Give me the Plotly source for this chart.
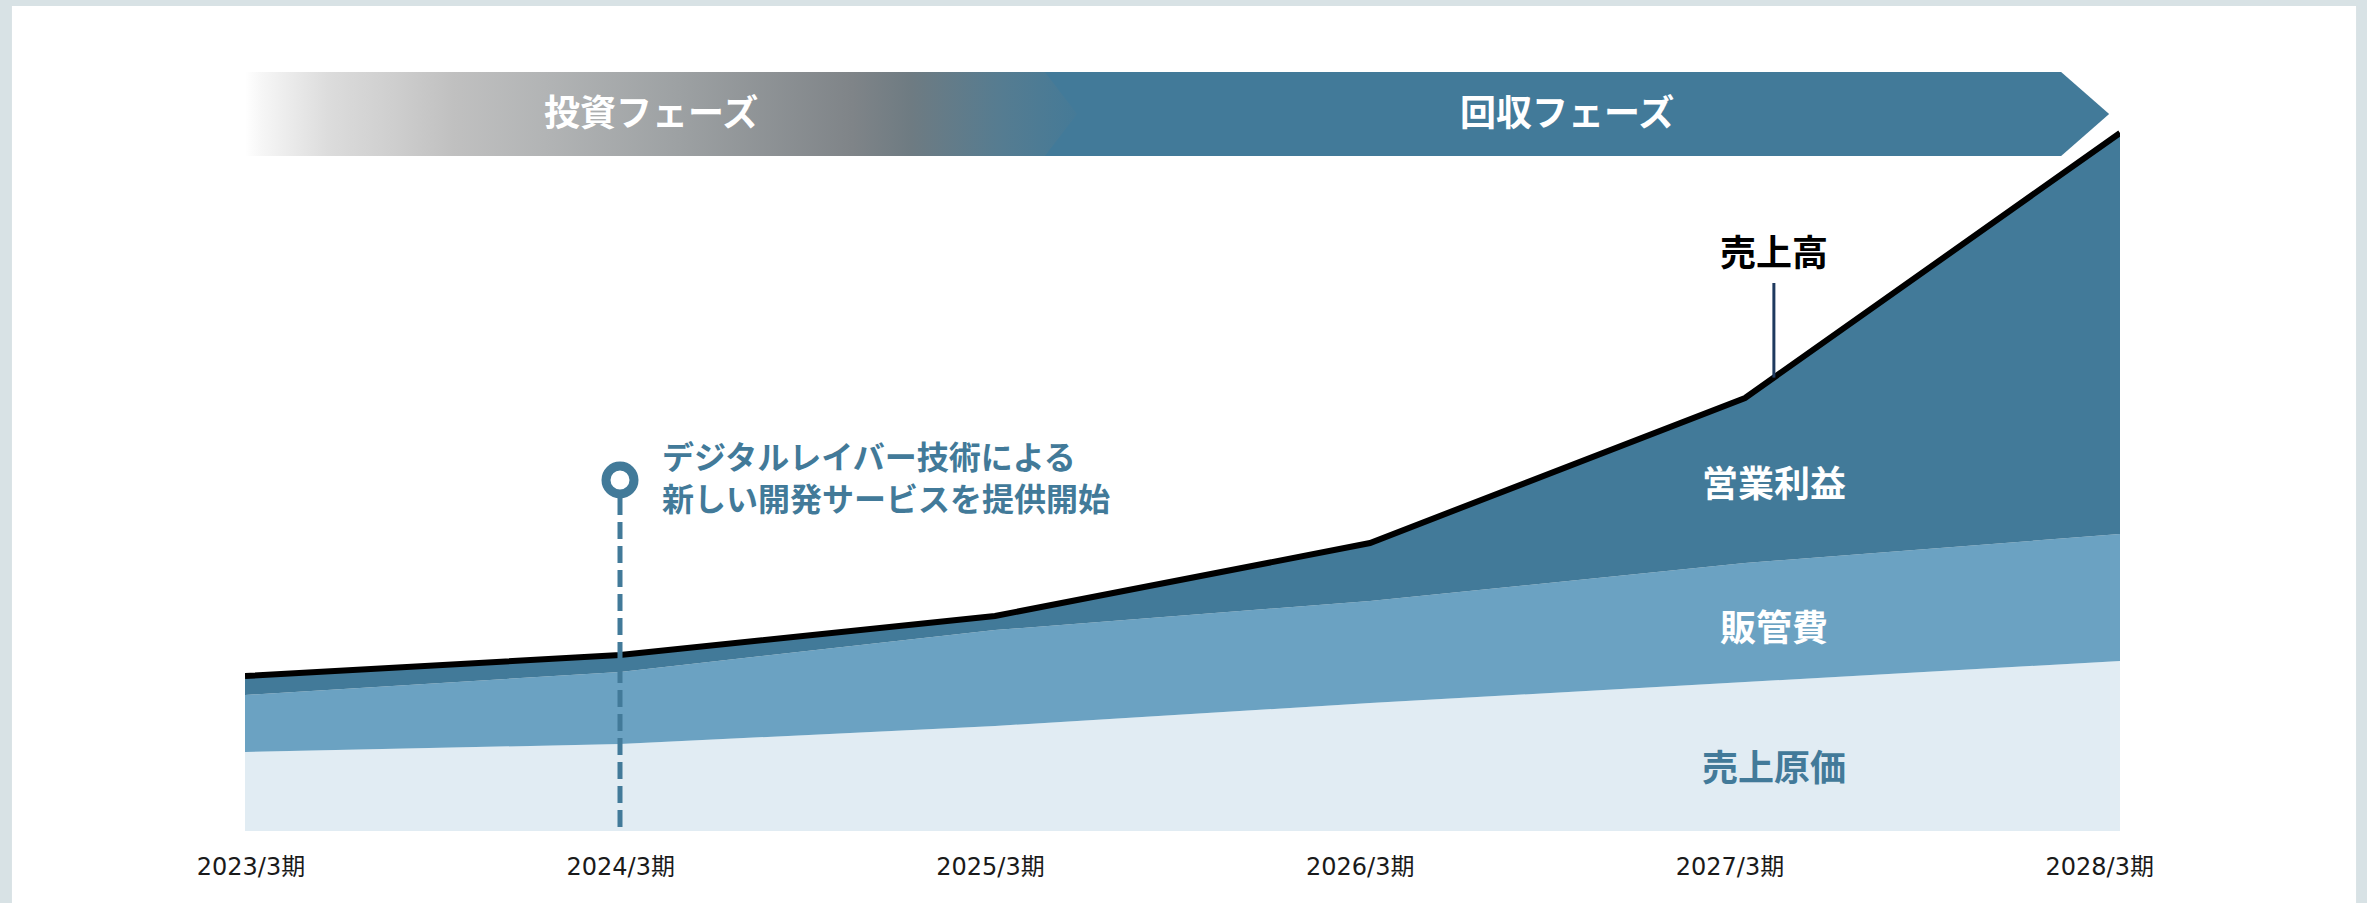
import numpy as np
import plotly.graph_objects as go

# ---- data (arbitrary units) ----
years = ["2023/3期", "2024/3期", "2025/3期", "2026/3期", "2027/3期", "2028/3期"]
cogs = [79, 87, 105, 128, 149, 170]        # 売上原価
sga = [57, 72, 96, 102, 119, 127]          # 販管費
op_profit = [19, 17, 14, 58, 165, 401]     # 営業利益
event_year_index = 1                       # 2024/3期: サービス提供開始

xs = list(range(len(years)))
revenue = list(np.add(np.add(cogs, sga), op_profit))  # 売上高

C_DARK = "#427a99"
C_MID = "#6ba2c2"
C_LIGHT = "#e1ecf3"
FONT = "Noto Sans CJK JP"

fig = go.Figure()

# stacked areas
fig.add_trace(go.Scatter(x=xs, y=cogs, stackgroup="s", mode="lines",
                         line=dict(width=0), fillcolor=C_LIGHT, hoverinfo="skip", name="売上原価"))
fig.add_trace(go.Scatter(x=xs, y=sga, stackgroup="s", mode="lines",
                         line=dict(width=0), fillcolor=C_MID, hoverinfo="skip", name="販管費"))
fig.add_trace(go.Scatter(x=xs, y=op_profit, stackgroup="s", mode="lines",
                         line=dict(width=0), fillcolor=C_DARK, hoverinfo="skip", name="営業利益"))
# revenue line
fig.add_trace(go.Scatter(x=xs, y=revenue, mode="lines",
                         line=dict(color="#000000", width=6), hoverinfo="skip", name="売上高"))

# ---- phase banner (decoration) ----
b_top, b_mid, b_bot = 759, 717, 675
fig.add_trace(go.Scatter(x=[1.765, 4.843, 4.971, 4.843, 1.765, 1.765],
                         y=[b_top, b_top, b_mid, b_bot, b_bot, b_top],
                         fill="toself", fillcolor=C_DARK, mode="lines",
                         line=dict(width=0), hoverinfo="skip"))
fig.add_trace(go.Scatter(x=[0, 2.133, 2.219, 2.133, 0, 0],
                         y=[b_top, b_top, b_mid, b_bot, b_bot, b_top],
                         fill="toself", mode="lines", line=dict(width=0), hoverinfo="skip",
                         fillgradient=dict(type="horizontal", colorscale=[
                             [0.0, "#ffffff"], [0.02, "#f6f6f6"], [0.10, "#dcdcdc"],
                             [0.18, "#cecece"], [0.25, "#c0c0c0"], [0.36, "#b2b4b5"],
                             [0.52, "#9da1a3"], [0.73, "#7f8488"], [0.80, "#6e7b82"],
                             [0.91, "#557c91"], [1.0, "#457a97"]])))

# ---- event marker ----
fig.add_trace(go.Scatter(x=[event_year_index, event_year_index], y=[333, 0], mode="lines",
                         line=dict(color=C_DARK, width=5, dash="17px,7px"), hoverinfo="skip"))
fig.add_trace(go.Scatter(x=[event_year_index], y=[351], mode="markers",
                         marker=dict(size=28, color="#ffffff", line=dict(color=C_DARK, width=9)),
                         hoverinfo="skip"))

# leader line for 売上高
lead_x = 4.077
lead_end = float(np.interp(lead_x, xs, revenue))
fig.add_shape(type="line", x0=lead_x, x1=lead_x, y0=548, y1=lead_end,
              line=dict(color="#1f3a5f", width=3), layer="above")

# background card
fig.add_shape(type="rect", xref="paper", yref="paper",
              x0=-0.1243, x1=1.1259, y0=-0.1, y1=0.9927,
              fillcolor="#ffffff", line=dict(width=0), layer="below")

def ann(text, x, y, color, size, xanchor="center", align="center"):
    fig.add_annotation(x=x, y=y, text=text, showarrow=False, xanchor=xanchor, yanchor="middle",
                       align=align, font=dict(family=FONT, size=size, color=color))

ann("<b>投資フェーズ</b>", 1.083, 721, "#ffffff", 36)
ann("<b>回収フェーズ</b>", 3.525, 721, "#ffffff", 36)
ann("<b>売上高</b>", lead_x, 581, "#000000", 36)
ann("<b>営業利益</b>", lead_x, 350, "#ffffff", 36)
ann("<b>販管費</b>", lead_x, 206, "#ffffff", 36)
ann("<b>売上原価</b>", lead_x, 66, C_DARK, 36)
ann("<b>デジタルレイバー技術による<br>新しい開発サービスを提供開始</b>", 1.107, 355.5, C_DARK, 32,
    xanchor="left", align="left")

label_pos = [0.016 + i * 0.986 for i in range(len(years))]

fig.update_layout(
    width=2367, height=903,
    margin=dict(l=245, r=247, t=0, b=72, pad=0),
    paper_bgcolor="#d8e2e5",
    plot_bgcolor="rgba(0,0,0,0)",
    showlegend=False,
    xaxis=dict(range=[0, 5], showgrid=False, zeroline=False, showline=False,
               tickvals=label_pos, ticktext=years, ticks="outside", ticklen=14,
               tickcolor="rgba(0,0,0,0)",
               tickfont=dict(family="DejaVu Sans, Noto Sans CJK JP", size=24, color="#1a1a1a"),
               fixedrange=True),
    yaxis=dict(range=[0, 831], showgrid=False, zeroline=False, showline=False,
               showticklabels=False, fixedrange=True),
)

fig.write_html("out.html", config={"displayModeBar": False},
               post_script="document.body.style.margin='0';document.body.style.overflow='hidden';")
